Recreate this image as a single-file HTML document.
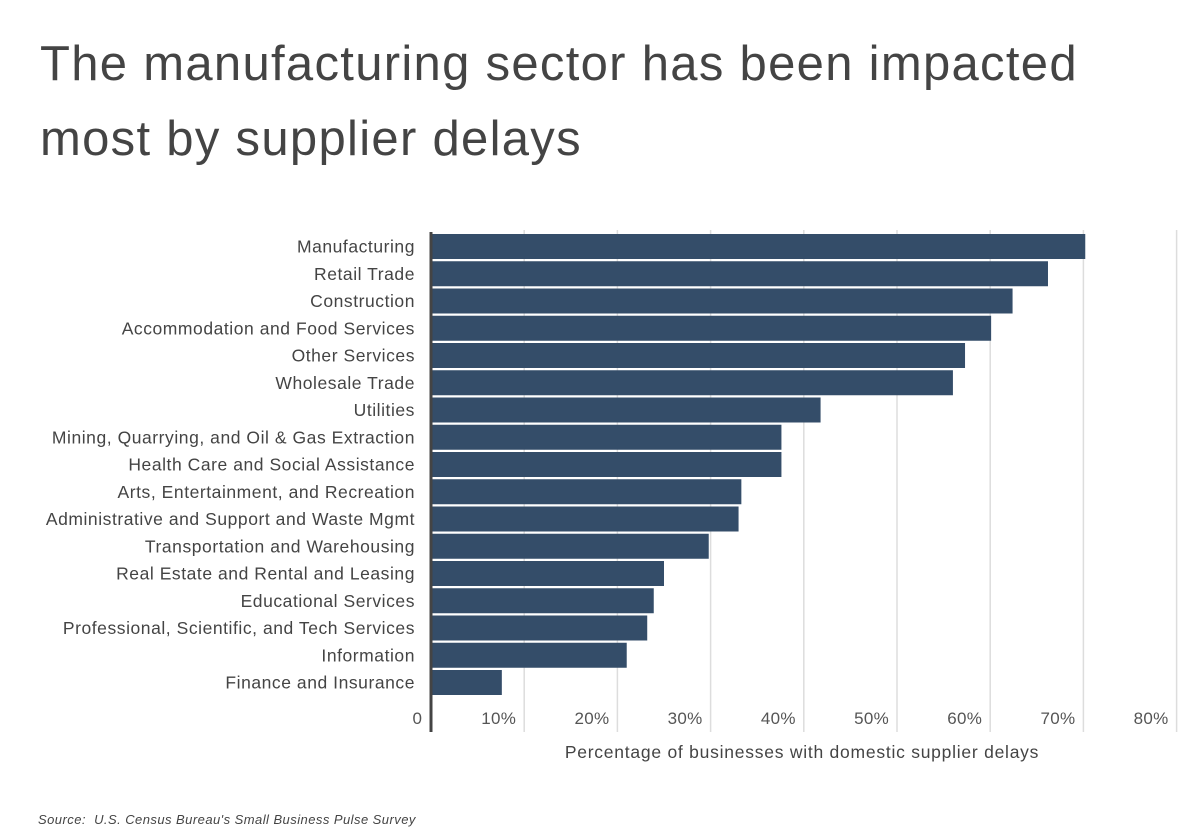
<!DOCTYPE html>
<html><head><meta charset="utf-8"><style>
body{margin:0;background:#fff;font-family:"Liberation Sans",sans-serif;}
#wrap{position:relative;width:1200px;height:838px;overflow:hidden;}
h1{position:absolute;left:40px;top:27px;margin:0;font-weight:normal;font-size:49px;line-height:75px;color:#444;letter-spacing:1.3px;}
.src{position:absolute;left:38px;top:812px;font-size:13px;font-style:italic;color:#444;letter-spacing:0.45px;}
</style></head><body>
<div id="wrap">
<h1>The manufacturing sector has been impacted<br>most by supplier delays</h1>
<svg id="chart" width="1200" height="838" style="position:absolute;left:0;top:0"></svg>
<div class="src">Source:&nbsp; U.S. Census Bureau's Small Business Pulse Survey</div>
</div>
<script>
const categories=["Manufacturing","Retail Trade","Construction","Accommodation and Food Services","Other Services","Wholesale Trade","Utilities","Mining, Quarrying, and Oil & Gas Extraction","Health Care and Social Assistance","Arts, Entertainment, and Recreation","Administrative and Support and Waste Mgmt","Transportation and Warehousing","Real Estate and Rental and Leasing","Educational Services","Professional, Scientific, and Tech Services","Information","Finance and Insurance"];
const values=[70.2,66.2,62.4,60.1,57.3,56.0,41.8,37.6,37.6,33.3,33.0,29.8,25.0,23.9,23.2,21.0,7.6];
const ticks=[10,20,30,40,50,60,70,80];
const tickLabels=["10%","20%","30%","40%","50%","60%","70%","80%"];
const NS="http://www.w3.org/2000/svg";
const svg=document.getElementById('chart');
const x0=431,pxPer=9.32,yTop=246.5,step=27.25,bh=25;
const xs=v=>x0+v*pxPer;
const ys=i=>yTop+i*step;
function mk(t,a){const e=document.createElementNS(NS,t);for(const k in a)e.setAttribute(k,a[k]);svg.appendChild(e);return e;}
ticks.forEach((t,i)=>{
 const g=mk('line',{x1:xs(t),x2:xs(t),y1:230,y2:732,stroke:'#ddd','stroke-width':1.5});
 
 
 const l=mk('text',{x:xs(t)-8,y:724,'text-anchor':'end','font-size':17,fill:'#555','letter-spacing':0.3});
 l.textContent=tickLabels[i];
 
 
});
const z=mk('text',{x:422,y:724,'text-anchor':'end','font-size':17,fill:'#555'});z.textContent='0';


categories.forEach((c,i)=>{
 const r=mk('rect',{x:x0,y:ys(i)-bh/2,width:xs(values[i])-x0,height:bh,fill:'#344d69'});
 
 
 const t=mk('text',{x:415,y:ys(i)+6,'text-anchor':'end','font-size':17.5,fill:'#444','letter-spacing':0.55});
 t.textContent=c;
 
 
});
const ax=mk('line',{x1:x0,x2:x0,y1:232,y2:732,stroke:'#444','stroke-width':3});


const at=mk('text',{x:802,y:758,'text-anchor':'middle','font-size':17.5,fill:'#444','letter-spacing':0.75});
at.textContent='Percentage of businesses with domestic supplier delays';


</script>
</body></html>
